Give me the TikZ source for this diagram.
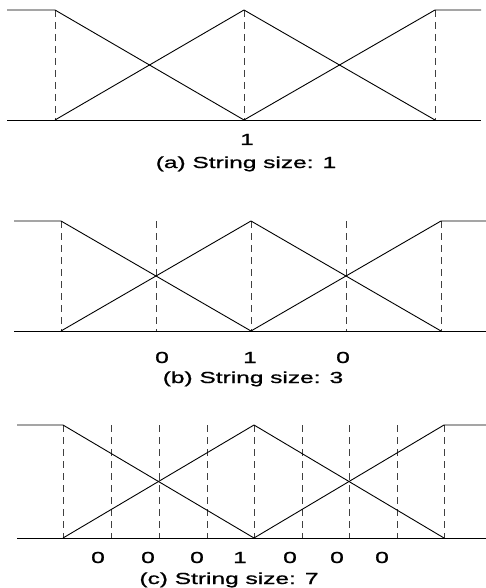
\documentclass[tikz,border=0pt]{standalone}
\usepackage{fontspec}
\usepackage{graphicx}
\setmainfont[FakeBold=0.8]{Liberation Sans}
\newcommand{\wide}[1]{\scalebox{1.53}[1]{#1}}
\tikzset{
  curve/.style={line width=0.9pt, black, line join=round},
  guide/.style={line width=0.6pt, black!75, dash pattern=on 7pt off 5pt},
  axis/.style={line width=0.9pt, black},
  lbl/.style={anchor=base, inner sep=0pt, font=\fontsize{16}{18}\selectfont},
}
\begin{document}
\begin{tikzpicture}[x=1pt,y=-1pt]
\useasboundingbox (0,0) rectangle (486,588);
% ---------------- (a) ----------------
\coordinate (aL0) at (7,10);   \coordinate (aL1) at (55,10);
\coordinate (aB0) at (7,120);  \coordinate (aB1) at (481,120);
\coordinate (aP1t) at (55,10); \coordinate (aP1b) at (55,120);
\coordinate (aP2t) at (244,10);\coordinate (aP2b) at (244,120);
\coordinate (aP3t) at (435,10);\coordinate (aP3b) at (435,120);
\coordinate (aR1) at (481,10);
\foreach \p in {1,2,3} \draw[guide] (aP\p t) -- (aP\p b);
\draw[axis] (aB0) -- (aB1);
\draw[curve] (aL0) -- (aP1t) -- (aP2b) -- (aP3t) -- (aR1);
\draw[curve] (aP1b) -- (aP2t) -- (aP3b);
\node[lbl] (a1) at (247,145) {\wide{1}};
\node[lbl] (acap) at (246,168) {\wide{(a) String size: 1}};
% ---------------- (b) ----------------
\coordinate (bL0) at (14,221);
\coordinate (bB0) at (14,331);  \coordinate (bB1) at (486,331);
\coordinate (bR1) at (486,221);
\foreach \i/\x in {1/61,2/156,3/251,4/346,5/441}{
  \coordinate (bP\i t) at (\x,221); \coordinate (bP\i b) at (\x,331);
  \draw[guide] (bP\i t) -- (bP\i b);
}
\draw[axis] (bB0) -- (bB1);
\draw[curve] (bL0) -- (bP1t) -- (bP3b) -- (bP5t) -- (bR1);
\draw[curve] (bP1b) -- (bP3t) -- (bP5b);
\node[lbl] (b1) at (162,363) {\wide{0}};
\node[lbl] (b2) at (250,363) {\wide{1}};
\node[lbl] (b3) at (343,363) {\wide{0}};
\node[lbl] (bcap) at (253,383) {\wide{(b) String size: 3}};
% ---------------- (c) ----------------
\coordinate (cL0) at (17,425);
\coordinate (cB0) at (17,538);  \coordinate (cB1) at (486,538);
\coordinate (cR1) at (486,425);
\foreach \i/\x in {1/63,2/111,3/159,4/207,5/254,6/302,7/349,8/397,9/444}{
  \coordinate (cP\i t) at (\x,425); \coordinate (cP\i b) at (\x,538);
  \draw[guide] (cP\i t) -- (cP\i b);
}
\draw[axis] (cB0) -- (cB1);
\draw[curve] (cL0) -- (cP1t) -- (cP5b) -- (cP9t) -- (cR1);
\draw[curve] (cP1b) -- (cP5t) -- (cP9b);
\node[lbl] (c1) at (98,563) {\wide{0}};
\node[lbl] (c2) at (148,563) {\wide{0}};
\node[lbl] (c3) at (197,563) {\wide{0}};
\node[lbl] (c4) at (240,563) {\wide{1}};
\node[lbl] (c5) at (290,563) {\wide{0}};
\node[lbl] (c6) at (337,563) {\wide{0}};
\node[lbl] (c7) at (382,563) {\wide{0}};
\node[lbl] (ccap) at (229,584) {\wide{(c) String size: 7}};
\end{tikzpicture}
\end{document}
